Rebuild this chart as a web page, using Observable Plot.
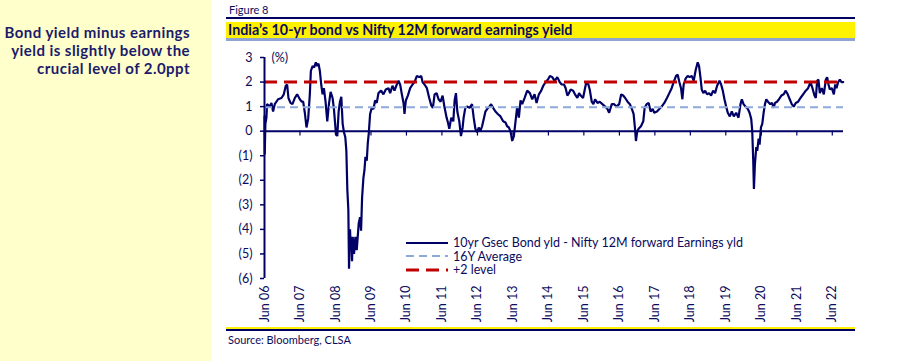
<!DOCTYPE html>
<html>
<head>
<meta charset="utf-8">
<script src="https://cdn.jsdelivr.net/npm/d3@7"></script>
<script src="https://cdn.jsdelivr.net/npm/@observablehq/plot@0.6"></script>
<style>
  html, body { margin: 0; padding: 0; background: #fff; }
  body { width: 898px; height: 361px; position: relative; overflow: hidden; font-family: Lato, "Open Sans", sans-serif; color: #0b0b5c; }
  .abs { position: absolute; }
  #side { left: 0; top: 0; width: 211px; height: 361px; background: #ffffcc; }
  #sidetext { left: 0; top: 23px; width: 190px; text-align: right; font-weight: bold; font-size: 15px; letter-spacing: 0.45px; line-height: 18px; color: #1b1b6b; white-space: nowrap; }
  #fig { left: 229px; top: 3px; font-size: 11px; color: #0b0b5c; }
  #rule1 { left: 226px; top: 17px; width: 629px; height: 2px; background: #000060; }
  #titlebar { left: 226px; top: 22px; width: 629px; height: 16px; background: #fff200; }
  #title { left: 228px; top: 21px; font-weight: bold; font-size: 14.3px; line-height: 17px; color: #0b0b5c; white-space: nowrap; }
  #rule2 { left: 226px; top: 38px; width: 629px; height: 3px; background: #8fa4d0; }
  #rule3 { left: 226px; top: 327px; width: 629px; height: 2px; background: #fff200; }
  #rule4 { left: 226px; top: 329px; width: 629px; height: 2px; background: #000060; }
  #source { left: 228px; top: 333px; font-size: 11px; color: #0b0b5c; }
  #chart { left: 213px; top: 42px; }
  #legend { left: 406px; top: 236px; font-size: 12.5px; color: #0b0b5c; }
  .row { display: flex; align-items: center; height: 13.5px; white-space: nowrap; }
  .row svg { margin-right: 5px; }
</style>
</head>
<body>
<div id="side" class="abs"></div>
<div id="sidetext" class="abs">Bond yield minus earnings<br>yield is slightly below the<br>crucial level of 2.0ppt</div>
<div id="fig" class="abs">Figure 8</div>
<div id="rule1" class="abs"></div>
<div id="titlebar" class="abs"></div>
<div id="title" class="abs">India’s 10-yr bond vs Nifty 12M forward earnings yield</div>
<div id="rule2" class="abs"></div>
<div id="chart" class="abs"></div>
<div id="legend" class="abs"></div>
<div id="rule3" class="abs"></div>
<div id="rule4" class="abs"></div>
<div id="source" class="abs">Source: Bloomberg, CLSA</div>
<script>
// ---- Data (decimal year, spread in ppt) ----
const dates = [
  2006.415, 2006.420, 2006.439, 2006.468, 2006.486, 2006.562, 2006.609, 2006.656, 2006.703, 2006.797,
  2006.892, 2006.958, 2007.014, 2007.052, 2007.089, 2007.146, 2007.202, 2007.268, 2007.334, 2007.410,
  2007.466, 2007.504, 2007.551, 2007.598, 2007.645, 2007.692, 2007.721, 2007.768, 2007.815, 2007.862,
  2007.900, 2007.937, 2007.975, 2008.013, 2008.051, 2008.088, 2008.135, 2008.183, 2008.230, 2008.277,
  2008.333, 2008.371, 2008.427, 2008.465, 2008.503, 2008.541, 2008.578, 2008.616, 2008.654, 2008.691,
  2008.720, 2008.748, 2008.776, 2008.795, 2008.823, 2008.842, 2008.861, 2008.880, 2008.899, 2008.936,
  2008.974, 2009.012, 2009.040, 2009.068, 2009.106, 2009.134, 2009.163, 2009.200, 2009.229, 2009.257,
  2009.295, 2009.323, 2009.351, 2009.389,
  2009.435, 2009.483, 2009.530, 2009.577, 2009.624, 2009.699, 2009.765, 2009.831, 2009.907, 2009.954,
  2010.020, 2010.076, 2010.142, 2010.189, 2010.236, 2010.284, 2010.331, 2010.359, 2010.397, 2010.453,
  2010.519, 2010.585, 2010.642, 2010.708, 2010.774, 2010.830, 2010.868, 2010.924, 2010.990, 2011.056,
  2011.113, 2011.160, 2011.207, 2011.264, 2011.320, 2011.377, 2011.433, 2011.490, 2011.546, 2011.584,
  2011.622, 2011.678, 2011.735, 2011.772, 2011.810, 2011.848, 2011.904, 2011.951, 2011.998,
  2012.026, 2012.073, 2012.120, 2012.196, 2012.262, 2012.309, 2012.356, 2012.403, 2012.450, 2012.497,
  2012.545, 2012.592, 2012.639, 2012.686, 2012.752, 2012.799, 2012.855, 2012.921, 2012.987, 2013.063,
  2013.138, 2013.204, 2013.251, 2013.298, 2013.345, 2013.393, 2013.440, 2013.487, 2013.534, 2013.581,
  2013.628, 2013.675, 2013.741, 2013.817, 2013.892, 2013.958, 2014.024, 2014.080, 2014.146, 2014.212,
  2014.269, 2014.335, 2014.401, 2014.457, 2014.523, 2014.589, 2014.665,
  2014.731, 2014.788, 2014.854, 2014.901, 2014.948, 2014.995, 2015.042, 2015.108, 2015.165, 2015.231,
  2015.278, 2015.325, 2015.391, 2015.447, 2015.485, 2015.541, 2015.579, 2015.636, 2015.683, 2015.730,
  2015.796, 2015.862, 2015.937, 2016.013, 2016.079, 2016.126, 2016.201, 2016.267, 2016.333, 2016.408,
  2016.465, 2016.521, 2016.578, 2016.644, 2016.710, 2016.767, 2016.814, 2016.851, 2016.880, 2016.917,
  2016.955, 2017.021, 2017.087, 2017.125, 2017.181, 2017.238, 2017.294, 2017.351,
  2017.397, 2017.473, 2017.539, 2017.605, 2017.680, 2017.755, 2017.821, 2017.887, 2017.944, 2018.010,
  2018.057, 2018.104, 2018.151, 2018.189, 2018.226, 2018.283, 2018.340, 2018.396, 2018.453, 2018.509,
  2018.566, 2018.622, 2018.660, 2018.698, 2018.735, 2018.782, 2018.830, 2018.886, 2018.943, 2018.999,
  2019.056, 2019.112, 2019.169, 2019.235, 2019.282, 2019.329, 2019.376, 2019.423, 2019.470, 2019.527,
  2019.583, 2019.640, 2019.706, 2019.772, 2019.828, 2019.866, 2019.913, 2019.970, 2020.036,
  2020.083, 2020.130, 2020.159, 2020.187, 2020.206, 2020.234, 2020.272, 2020.300, 2020.338, 2020.366,
  2020.404, 2020.441, 2020.479, 2020.517, 2020.554, 2020.601, 2020.667, 2020.715, 2020.762, 2020.799,
  2020.856, 2020.912, 2020.978, 2021.044, 2021.101, 2021.157, 2021.214, 2021.271, 2021.327, 2021.384,
  2021.450, 2021.516, 2021.591, 2021.666, 2021.732, 2021.798, 2021.855, 2021.911, 2021.949, 2021.987,
  2022.024, 2022.062, 2022.119, 2022.175, 2022.232, 2022.269, 2022.307, 2022.345, 2022.401, 2022.458,
  2022.496, 2022.533, 2022.580, 2022.627, 2022.675, 2022.722
];
const spread = [
  0.6, -0.95, 0.3, 0.55, 1.1, 1.0, 1.15, 0.8, 1.1, 1.3,
  1.35, 1.5, 1.85, 1.9, 1.35, 1.15, 1.1, 1.35, 1.5, 1.3,
  1.2, 1.2, 0.75, 0.15, 0.5, 1.5, 2.45, 2.65, 2.6, 2.8,
  2.65, 2.75, 2.45, 1.9, 1.5, 1.75, 1.2, 0.4, 1.1, 1.6,
  1.35, 0.9, -0.1, -0.2, 0.8, 1.2, 1.4, 0.3, -0.05, -0.25,
  -0.8, -2.4, -3.2, -5.6, -4.0, -4.7, -4.3, -5.3, -4.3, -5.0,
  -4.3, -4.85, -4.3, -3.75, -3.5, -4.05, -2.7, -1.9, -1.6, -1.05,
  -1.2, -0.5, -0.1, 0.7,
  0.95, 0.9, 1.25, 1.15, 1.55, 1.65, 1.5, 1.7, 1.75, 1.55,
  1.85, 1.65, 1.9, 2.05, 1.9, 1.5, 1.15, 0.7, 1.25, 1.45,
  1.75, 1.9, 2.0, 2.25, 2.2, 2.25, 2.0, 1.9, 1.75, 1.35,
  1.05, 0.95, 1.5, 1.55, 1.3, 1.2, 1.45, 0.95, 0.55, 0.35,
  0.1, 0.55, 0.4, 1.25, 1.55, 0.8, 0.4, -0.2, 0.15,
  0.55, 0.95, 1.0, 0.95, 1.1, 0.55, 0.1, -0.05, 0.15, 0.0,
  0.2, 0.5, 0.8, 0.9, 1.0, 1.1, 0.95, 0.8, 0.7, 0.6,
  0.4, 0.35, 0.2, 0.15, 0.0, -0.4, -0.2, 0.4, 1.0, 0.55,
  1.25, 1.1, 1.35, 1.65, 1.55, 1.3, 1.5, 1.15, 1.5, 1.65,
  1.85, 2.0, 2.1, 2.25, 2.2, 2.05, 2.2,
  2.0, 1.9, 1.9, 1.75, 1.45, 1.55, 1.7, 1.65, 1.5, 1.35,
  1.55, 1.45, 1.35, 1.75, 2.0, 1.9, 1.7, 1.2, 1.1, 1.3,
  1.15, 1.2, 1.1, 1.0, 0.9, 0.75, 1.1, 1.1, 1.0, 1.1,
  1.5, 1.45, 1.35, 1.2, 1.1, 0.9, 0.7, 0.15, -0.4, 0.0,
  0.1, 0.2, 0.4, 0.95, 1.1, 1.15, 0.8, 0.9,
  0.75, 0.8, 0.9, 1.0, 1.15, 1.35, 1.55, 1.75, 2.0, 2.25,
  2.3, 2.0, 1.75, 1.3, 1.9, 2.15, 2.25, 2.2, 2.25, 2.05,
  2.5, 2.8, 2.65, 2.2, 1.7, 1.55, 1.65, 1.5, 1.55, 1.45,
  1.65, 1.55, 1.85, 2.05, 1.9, 1.65, 1.3, 1.0, 0.75, 0.6,
  0.8, 0.6, 0.75, 0.55, 1.1, 1.3, 1.1, 1.0, 0.9,
  0.75, 0.5, 0.0, -1.2, -2.35, -1.35, -0.65, -0.8, -0.3, -0.55,
  0.15, 0.3, 0.75, 1.1, 1.3, 1.2, 1.1, 1.15, 0.95, 1.15,
  1.2, 1.3, 1.45, 1.5, 1.65, 1.5, 1.3, 1.1, 1.0, 1.15,
  1.2, 1.35, 1.5, 1.65, 1.75, 2.0, 1.75, 1.45, 1.35, 2.05,
  2.1, 1.55, 1.75, 1.5, 2.1, 2.2, 1.9, 1.7, 1.75, 1.5,
  1.9, 1.75, 2.0, 2.1, 2.0, 2.0
];
const averageLevel = 0.97;   // 16Y average
const plusTwoLevel = 2;      // +2 level
const tickYears = [2006, 2007, 2008, 2009, 2010, 2011, 2012, 2013, 2014, 2015, 2016, 2017, 2018, 2019, 2020, 2021, 2022];
const yTicks = [-6, -5, -4, -3, -2, -1, 0, 1, 2, 3];
const seriesNames = ["10yr Gsec Bond yld - Nifty 12M forward Earnings yld", "16Y Average", "+2 level"];

// ---- helpers ----
const toDate = t => {
  const y = Math.floor(t);
  const a = Date.UTC(y, 0, 1), b = Date.UTC(y + 1, 0, 1);
  return new Date(a + (t - y) * (b - a));
};
const data = dates.map((t, i) => ({date: toDate(t), value: spread[i]}));
const tickDates = tickYears.map(y => new Date(Date.UTC(y, 5, 1)));
const xDomain = [tickDates[0], toDate(2022.73)];

const navy = "#000066";
const text = "#0b0b5c";
const blue = "#8ea9db";
const red = "#c00000";

const chart = Plot.plot({
  width: 645,
  height: 285,
  marginLeft: 51,
  marginRight: 15,
  marginTop: 15,
  marginBottom: 49,
  style: {fontFamily: "Lato, sans-serif", fontSize: "12.5px", color: text, background: "transparent"},
  x: {type: "utc", domain: xDomain},
  y: {domain: [-6, 3]},
  marks: [
    Plot.axisY({ticks: yTicks, tickFormat: d => d < 0 ? `(${-d})` : `${d}`, tickSize: 4, tickPadding: 8, stroke: navy, strokeWidth: 1.5, label: null}),
    Plot.axisX({ticks: tickDates, tickFormat: d3.utcFormat("%b %y"), tickRotate: -90, tickSize: 0, tickPadding: 7, label: null}),
    Plot.ruleY([0], {stroke: navy, strokeWidth: 2}),
    Plot.ruleX(tickDates, {x: d => d, y1: 0, y2: -0.2, stroke: navy, strokeWidth: 1.2}),
    Plot.line(data, {x: "date", y: "value", stroke: navy, strokeWidth: 2.2, strokeLinejoin: "miter"}),
    Plot.ruleY([averageLevel], {stroke: blue, strokeWidth: 2, strokeDasharray: "8,5"}),
    Plot.ruleY([plusTwoLevel], {stroke: red, strokeWidth: 3, strokeDasharray: "13,7"}),
    Plot.ruleX([xDomain[0]], {stroke: navy, strokeWidth: 2}),
    Plot.text(["(%)"], {frameAnchor: "top-left", dx: 7, dy: -4, textAnchor: "start", fill: text, fontSize: 12.5})
  ]
});
document.getElementById("chart").appendChild(chart);

// ---- legend ----
const swatches = [
  {stroke: navy, width: 2, dash: null},
  {stroke: blue, width: 2, dash: "8,5"},
  {stroke: red, width: 3, dash: "13,7"}
];
const legend = document.getElementById("legend");
seriesNames.forEach((name, i) => {
  const row = document.createElement("div");
  row.className = "row";
  const s = swatches[i];
  row.innerHTML = `<svg width="42" height="6"><line x1="0" x2="42" y1="3" y2="3" stroke="${s.stroke}" stroke-width="${s.width}" ${s.dash ? `stroke-dasharray="${s.dash}"` : ""}/></svg><span>${name}</span>`;
  legend.appendChild(row);
});
</script>
</body>
</html>
